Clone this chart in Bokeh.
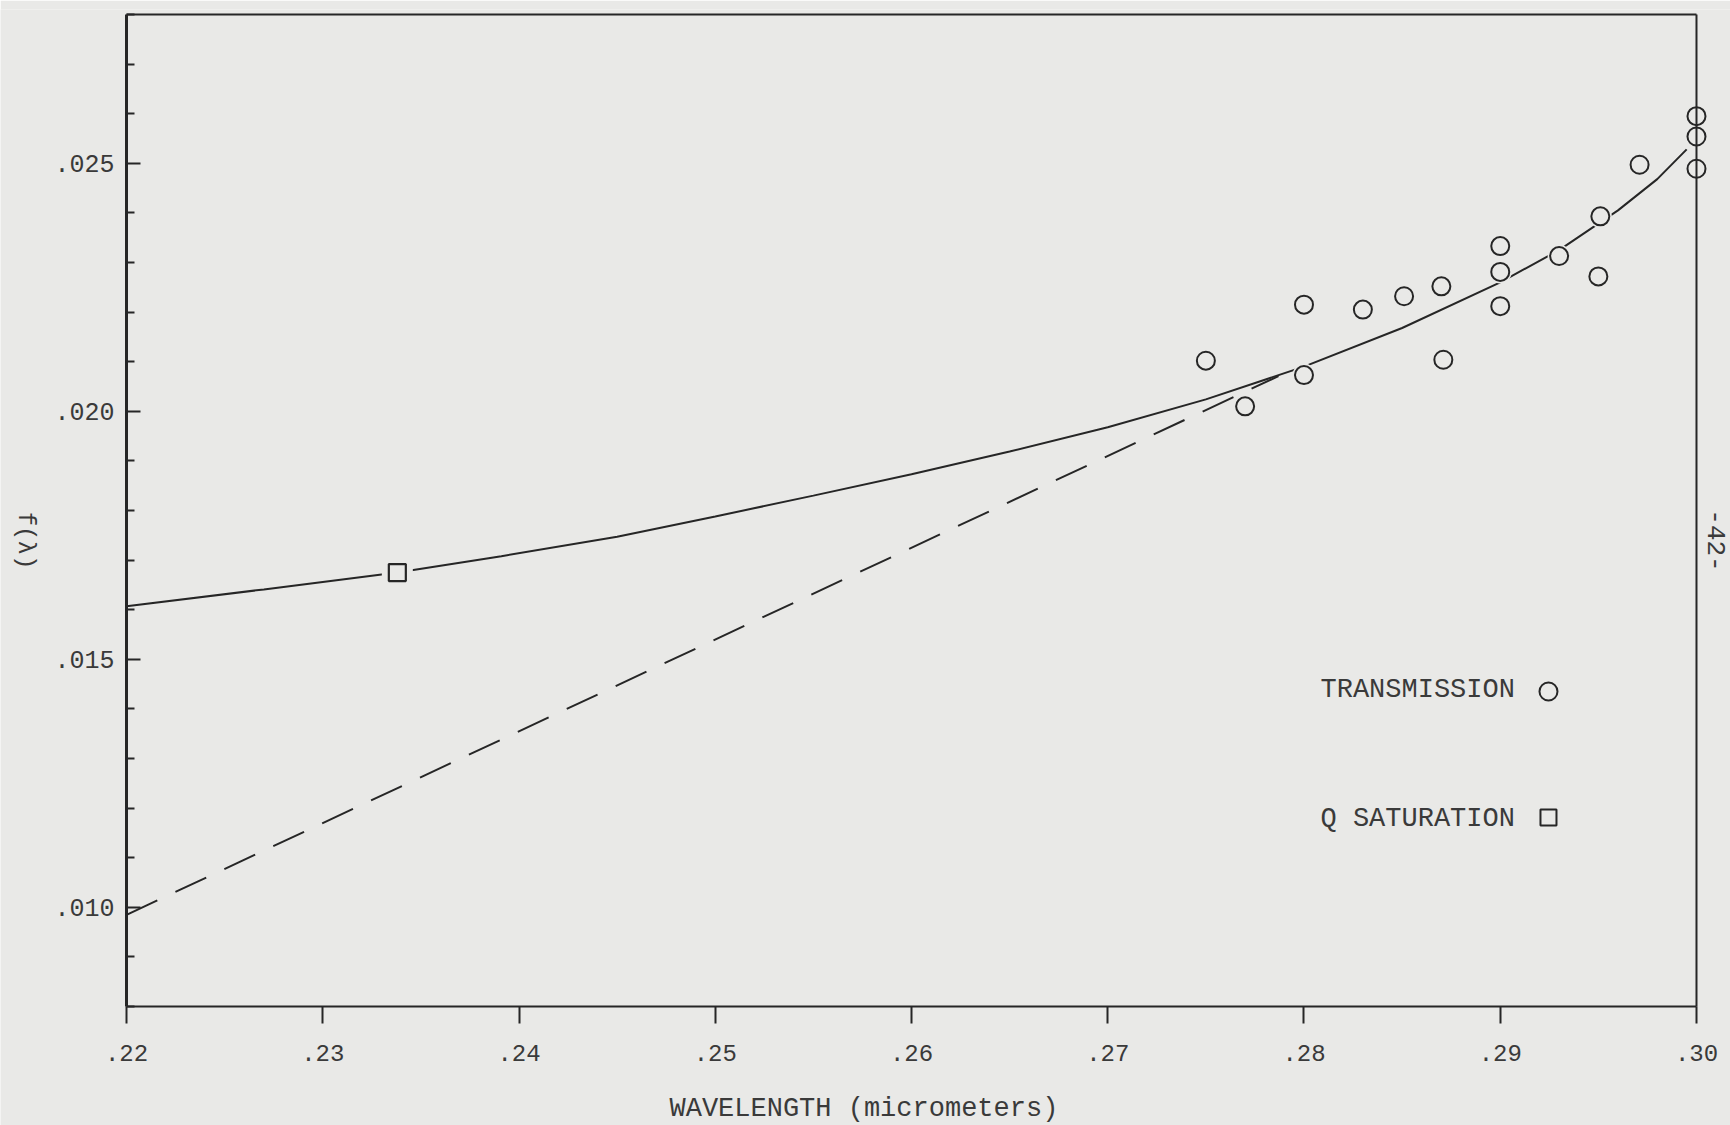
import math
from bokeh.plotting import figure
from bokeh.models import Range1d, FixedTicker, CustomJSTickFormatter, Label
from bokeh.embed import file_html
from bokeh.resources import INLINE

# ---------------- data ----------------
x_ticks = [0.22, 0.23, 0.24, 0.25, 0.26, 0.27, 0.28, 0.29, 0.30]
x_tick_labels = [".22", ".23", ".24", ".25", ".26", ".27", ".28", ".29", ".30"]
y_ticks = [0.010, 0.015, 0.020, 0.025]
y_tick_labels = [".010", ".015", ".020", ".025"]
y_minor_ticks = [0.008, 0.009, 0.011, 0.012, 0.013, 0.014, 0.016, 0.017, 0.018,
                 0.019, 0.021, 0.022, 0.023, 0.024, 0.026, 0.027, 0.028]
X_MIN, X_MAX = 0.22, 0.30
Y_MIN, Y_MAX = 0.008, 0.028

# transmission measurements (circles)
trans_x = [0.2750, 0.2770, 0.2800, 0.2800, 0.2830, 0.2851, 0.2870, 0.2871, 0.2900,
           0.2900, 0.2900, 0.2930, 0.2950, 0.2951, 0.2971, 0.3000, 0.3000, 0.3000]
trans_y = [0.02102, 0.02010, 0.02215, 0.02073, 0.02205, 0.02232, 0.02252, 0.02104, 0.02333,
           0.02281, 0.02212, 0.02313, 0.02272, 0.02393, 0.02497, 0.02595, 0.02554, 0.02489]

# Q saturation (square)
qsat_x = [0.2338]
qsat_y = [0.01675]

# smooth hand-drawn curve (solid)
curve_x = [0.2200, 0.2270, 0.2338, 0.2391, 0.2450, 0.2500, 0.2550, 0.2600, 0.2650,
           0.2700, 0.2750, 0.2800, 0.2850, 0.2900, 0.2930, 0.2960, 0.2980, 0.2995]
curve_y = [0.01607, 0.01641, 0.01675, 0.01708, 0.01747, 0.01788, 0.01830, 0.01873, 0.01919,
           0.01968, 0.02024, 0.02090, 0.02168, 0.02260, 0.02325, 0.02405, 0.02468, 0.02528]

# straight dashed extrapolation
dash_x = [0.2200, 0.2787]
dash_y = [0.00985, 0.02071]

# ---------------- style ----------------
BG = "#e9e9e7"
INK = "#262626"
TXT = "#3a3a3a"
FONT = "Liberation Mono"

# The whole page is the plotting area so that the margin texts (rotated
# y title, x title, page number) can be placed in it; both axes are pinned
# to the .22 / .008 edges of the drawn box.
p = figure(width=1730, height=1125,
           x_range=Range1d(0.213579, 0.301733), y_range=Range1d(0.005603, 0.0281),
           output_backend="svg", toolbar_location=None,
           min_border_left=0, min_border_right=0,
           min_border_top=9, min_border_bottom=0,
           background_fill_color=BG, border_fill_color=BG)

p.xgrid.visible = False
p.ygrid.visible = False
p.outline_line_color = None

lookup = """
let best = 0;
for (let i = 0; i < tv.length; i++) {
  if (Math.abs(tv[i] - tick) < Math.abs(tv[best] - tick)) best = i;
}
return labels[best];
"""

# x axis, pinned at y = .008
p.xaxis.fixed_location = Y_MIN
p.xaxis.bounds = (X_MIN, X_MAX)
p.xaxis.ticker = FixedTicker(ticks=x_ticks)
p.xaxis.formatter = CustomJSTickFormatter(args=dict(tv=x_ticks, labels=x_tick_labels), code=lookup)
p.xaxis.major_tick_in = 0
p.xaxis.major_tick_out = 17
p.xaxis.major_tick_line_width = 2
p.xaxis.major_tick_line_color = INK
p.xaxis.minor_tick_line_color = None
p.xaxis.axis_line_color = INK
p.xaxis.axis_line_width = 2
p.xaxis.major_label_text_font = FONT
p.xaxis.major_label_text_font_size = "24px"
p.xaxis.major_label_text_color = TXT
p.xaxis.major_label_standoff = 21

# y axis, pinned at x = .22
p.yaxis.fixed_location = X_MIN
p.yaxis.bounds = (Y_MIN, Y_MAX)
p.yaxis.ticker = FixedTicker(ticks=y_ticks, minor_ticks=y_minor_ticks)
p.yaxis.formatter = CustomJSTickFormatter(args=dict(tv=y_ticks, labels=y_tick_labels), code=lookup)
p.yaxis.major_tick_in = 14
p.yaxis.major_tick_out = 0
p.yaxis.minor_tick_in = 8
p.yaxis.minor_tick_out = 0
p.yaxis.major_tick_line_width = 2
p.yaxis.minor_tick_line_width = 2
p.yaxis.major_tick_line_color = INK
p.yaxis.minor_tick_line_color = INK
p.yaxis.axis_line_color = INK
p.yaxis.axis_line_width = 3
p.yaxis.major_label_text_font = FONT
p.yaxis.major_label_text_font_size = "25px"
p.yaxis.major_label_text_color = TXT
p.yaxis.major_label_standoff = 12

# data marks
p.line(dash_x, dash_y, line_color=INK, line_width=2, line_dash="34 20")
p.line(curve_x, curve_y, line_color=INK, line_width=2)
# paper-coloured halos: the hand-drawn curve stops short of the symbols
p.scatter(trans_x, trans_y, marker="circle", size=23, line_color=None, fill_color=BG)
p.scatter(qsat_x, qsat_y, marker="square", size=31, line_color=None, fill_color=BG)
p.scatter(trans_x, trans_y, marker="circle", size=18, line_color=INK, line_width=2,
          fill_color=BG)
p.scatter(qsat_x, qsat_y, marker="square", size=17, line_color=INK, line_width=2.2,
          fill_color=BG)

# frame: top edge and right edge
p.line([X_MIN, X_MAX], [Y_MAX, Y_MAX], line_color=INK, line_width=2)
p.line([X_MAX, X_MAX], [Y_MIN, Y_MAX], line_color=INK, line_width=2)

# key (text followed by symbol, as in the original)
p.add_layout(Label(x=0.28084, y=0.01439, text="TRANSMISSION", text_font=FONT,
                   text_font_size="27px", text_color=TXT, text_baseline="middle",
                   text_align="left"))
p.add_layout(Label(x=0.28084, y=0.01179, text="Q SATURATION", text_font=FONT,
                   text_font_size="27px", text_color=TXT, text_baseline="middle",
                   text_align="left"))
p.scatter([0.292458], [0.014352], marker="circle", size=18, line_color=INK, line_width=2,
          fill_color=BG)
p.scatter([0.292458], [0.011811], marker="square", size=16, line_color=INK, line_width=2,
          fill_color=BG)

# x title
p.add_layout(Label(x=0.247668, y=0.005945, text="WAVELENGTH (micrometers)",
                   text_font=FONT, text_font_size="27px", text_color=TXT,
                   text_align="left", text_baseline="middle"))

# y title, typed reading downward
p.add_layout(Label(x=0.214853, y=0.017396, text="f(λ)", angle=-math.pi / 2,
                   text_font=FONT, text_font_size="24px", text_color=TXT,
                   text_align="center", text_baseline="middle"))

# page number at the right margin
p.add_layout(Label(x=0.301018, y=0.017396, text="-42-", angle=-math.pi / 2,
                   text_font=FONT, text_font_size="26px", text_color=TXT,
                   text_align="center", text_baseline="middle"))

open("out.html", "w").write(file_html(p, INLINE))
